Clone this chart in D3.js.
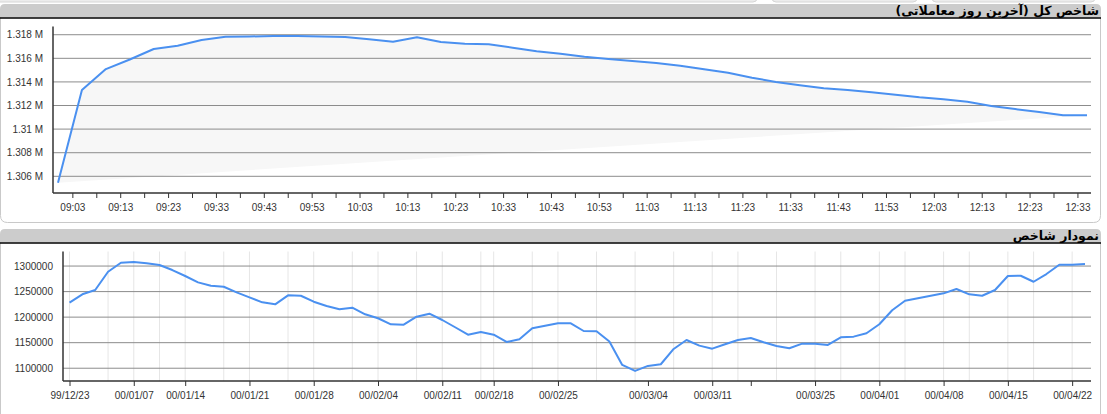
<!DOCTYPE html>
<html>
<head>
<meta charset="utf-8">
<script src="https://cdn.jsdelivr.net/npm/d3@7"></script>
<style>
  html, body { margin: 0; padding: 0; background: #fff; }
  svg { display: block; }
  .tick text { font-family: "Liberation Sans", Arial, sans-serif; }
</style>
</head>
<body>
<svg id="chart" width="1107" height="414"></svg>
<script>
// ---------- DATA ----------
const intradayTitle = "شاخص کل (آخرین روز معاملاتی)";
const dailyTitle = "نمودار شاخص";

const intradayTimes = [
  "09:00","09:05","09:10","09:15","09:20","09:25","09:30","09:35","09:40","09:45",
  "09:50","09:55","10:00","10:05","10:10","10:15","10:20","10:25","10:30","10:35",
  "10:40","10:45","10:50","10:55","11:00","11:05","11:10","11:15","11:20","11:25",
  "11:30","11:35","11:40","11:45","11:50","11:55","12:00","12:05","12:10","12:15",
  "12:20","12:25","12:30","12:35"
];
const intradayValues = [
  1305460,1313310,1315090,1315900,1316790,1317070,1317550,1317830,1317850,1317890,
  1317890,1317850,1317810,1317610,1317410,1317780,1317380,1317240,1317190,1316900,
  1316590,1316390,1316140,1315940,1315770,1315600,1315370,1315070,1314780,1314360,
  1314000,1313710,1313460,1313310,1313120,1312920,1312700,1312530,1312320,1311960,
  1311700,1311450,1311170,1311170
];
const intradayYTicks = [1306000,1308000,1310000,1312000,1314000,1316000,1318000];
const intradayXLabels = [
  "09:03","09:13","09:23","09:33","09:43","09:53","10:03","10:13","10:23","10:33","10:43",
  "10:53","11:03","11:13","11:23","11:33","11:43","11:53","12:03","12:13","12:23","12:33"
];

const dailyValues = [
  1228300,1244700,1253100,1288900,1306500,1307800,1305300,1302000,1292200,1280500,
  1268100,1261500,1259500,1248600,1238800,1229000,1225100,1242700,1241900,1230200,
  1221800,1215300,1218500,1205600,1197800,1186000,1185200,1200900,1206700,1194400,
  1180200,1165700,1171000,1165700,1151400,1156700,1178200,1183300,1188000,1188000,
  1172900,1172300,1152400,1106500,1094700,1104500,1107800,1137700,1155300,1144200,
  1138300,1146900,1155300,1159200,1150800,1143600,1139100,1148100,1148100,1145600,
  1160600,1161800,1168400,1186000,1213400,1232200,1236900,1241900,1246600,1255000,
  1244700,1241900,1253100,1280500,1281000,1269300,1284400,1302500,1302500,1303900
];
const dailyTickIndex  = [0,5,9,14,19,24,29,33,38,45,50,53,58,63,68,73,78];
const dailyTickLabels = ["99/12/23","00/01/07","00/01/14","00/01/21","00/01/28","00/02/04",
  "00/02/11","00/02/18","00/02/25","00/03/04","00/03/11","","00/03/25","00/04/01",
  "00/04/08","00/04/15","00/04/22"];
const dailyGridIndex = [0,3,5,7,9,12,14,17,19,22,24,27,29,32,33,36,38,41,44,47,50,52,55,58,60,63,65,68,70,73,75,78];
const dailyYTicks = [1100000,1150000,1200000,1250000,1300000];

// ---------- DRAW ----------
const svg = d3.select("#chart");
const LINE = "#4a90f0";
const GRID = "#8c8c8c";
const AXIS = "#333";
const TXT = "#333";
const FONT = '"Liberation Sans", Arial, sans-serif';
const TFONT = '"DejaVu Sans", "Noto Sans", sans-serif';

// remnants of tabs above the first panel
[[-10, 757], [772, 917], [932, 1095]].forEach(([a, b]) => {
  svg.append("rect").attr("x",a).attr("y",-6).attr("width",b - a).attr("height",8)
    .attr("rx",4).attr("fill","#ededed").attr("stroke","#d6d6d6");
});

function panel(yHeaderTop, yHeaderBottom, yBottom, title) {
  const g = svg.append("g");
  const r = 7, L = 0.5, R = 1100.5;
  g.append("path")
    .attr("d", `M${L},${yHeaderBottom} L${L},${yBottom - r} Q${L},${yBottom} ${L + r},${yBottom}
                L${R - r},${yBottom} Q${R},${yBottom} ${R},${yBottom - r} L${R},${yHeaderBottom}`)
    .attr("fill","#fff").attr("stroke","#c9c9c9").attr("stroke-width",1);
  const hr = 5;
  g.append("path")
    .attr("d", `M0,${yHeaderBottom} L0,${yHeaderTop + hr} Q0,${yHeaderTop} ${hr},${yHeaderTop}
                L${1101 - hr},${yHeaderTop} Q1101,${yHeaderTop} 1101,${yHeaderTop + hr} L1101,${yHeaderBottom} Z`)
    .attr("fill","#cccccc");
  g.append("line").attr("x1",0).attr("x2",1101)
    .attr("y1",yHeaderBottom + 0.5).attr("y2",yHeaderBottom + 0.5)
    .attr("stroke","#000").attr("stroke-width",1.5);
  g.append("text").attr("x",1099).attr("y",yHeaderBottom - 2.5)
    .attr("text-anchor","start").attr("direction","rtl")
    .style("direction","rtl").style("unicode-bidi","embed")
    .attr("font-family",TFONT).attr("font-weight","bold").attr("font-size",12.5)
    .attr("fill","#000").text(title);
}
panel(4, 17.5, 222.5, intradayTitle);
panel(229, 242.5, 430, dailyTitle);

// ---------- TOP CHART ----------
(function () {
  const parse = d3.timeParse("%H:%M");
  const pts = intradayTimes.map((t, i) => ({ t: parse(t), v: intradayValues[i] }));
  const x = d3.scaleTime().domain([parse("09:00"), parse("12:35")]).range([58, 1087]);
  const y = d3.scaleLinear().domain([1304610, 1318680]).range([192.7, 26.7]);
  const xL = 53, xR = 1091, yB = 193, yT = 26.5;
  const g = svg.append("g");

  const lineGen = d3.line().x(d => x(d.t)).y(d => y(d.v));
  g.append("path").attr("d", lineGen(pts) + "Z").attr("fill","#f7f7f7").attr("stroke","none");

  g.selectAll(".hg").data(intradayYTicks).join("line")
    .attr("x1",xL).attr("x2",xR).attr("y1",d => y(d)).attr("y2",d => y(d))
    .attr("stroke",GRID).attr("stroke-width",1);

  const yAxis = d3.axisLeft(y).tickValues(intradayYTicks).tickSize(0).tickPadding(10)
    .tickFormat(d => (+(d / 1e6).toFixed(3)) + " M");
  const ya = g.append("g").attr("transform",`translate(${xL},0)`).call(yAxis);
  ya.select(".domain").remove();
  ya.selectAll("text").attr("font-size",10).attr("fill",TXT).attr("font-family",FONT);

  const labelTimes = intradayXLabels.map(parse);
  const minorTimes = labelTimes.map(t => d3.timeMinute.offset(t, 5)).filter(t => x(t) <= xR);
  const xAxis = d3.axisBottom(x).tickValues(labelTimes).tickSize(5).tickPadding(6)
    .tickFormat(d3.timeFormat("%H:%M"));
  const xa = g.append("g").attr("transform",`translate(0,${yB})`).call(xAxis);
  xa.select(".domain").remove();
  xa.selectAll("line").attr("stroke",AXIS);
  xa.selectAll("text").attr("font-size",10).attr("fill",TXT).attr("font-family",FONT);
  const xm = g.append("g").attr("transform",`translate(0,${yB})`)
    .call(d3.axisBottom(x).tickValues(minorTimes).tickSize(5).tickFormat(""));
  xm.select(".domain").remove();
  xm.selectAll("line").attr("stroke",AXIS);

  g.append("line").attr("x1",xL).attr("x2",xR).attr("y1",yB).attr("y2",yB).attr("stroke",AXIS).attr("stroke-width",1.5);
  g.append("line").attr("x1",xL).attr("x2",xL).attr("y1",yT).attr("y2",yB).attr("stroke",AXIS).attr("stroke-width",1.5);

  g.append("path").attr("d", lineGen(pts)).attr("fill","none")
    .attr("stroke",LINE).attr("stroke-width",2).attr("stroke-linejoin","round");
})();

// ---------- BOTTOM CHART ----------
(function () {
  const idx = d3.range(dailyValues.length);
  const x = d3.scalePoint().domain(idx).range([69.5, 1085]);
  const y = d3.scaleLinear().domain([1075000, 1327500]).range([381, 252]);
  const xL = 63, xR = 1091, yB = 381, yT = 251.5;
  const g = svg.append("g");

  g.selectAll(".vg").data(dailyGridIndex).join("line")
    .attr("x1",d => x(d)).attr("x2",d => x(d)).attr("y1",yT).attr("y2",yB)
    .attr("stroke","#e6e6e6").attr("stroke-width",1);

  g.selectAll(".hg").data(dailyYTicks).join("line")
    .attr("x1",xL).attr("x2",xR).attr("y1",d => y(d)).attr("y2",d => y(d))
    .attr("stroke",GRID).attr("stroke-width",1);

  const yAxis = d3.axisLeft(y).tickValues(dailyYTicks).tickSize(0).tickPadding(10)
    .tickFormat(d3.format("d"));
  const ya = g.append("g").attr("transform",`translate(${xL},0)`).call(yAxis);
  ya.select(".domain").remove();
  ya.selectAll("text").attr("font-size",10).attr("fill",TXT).attr("font-family",FONT);

  const labelMap = new Map(dailyTickIndex.map((d, i) => [d, dailyTickLabels[i]]));
  const xAxis = d3.axisBottom(x).tickValues(dailyTickIndex).tickSize(5).tickPadding(6)
    .tickFormat(d => labelMap.get(d));
  const xa = g.append("g").attr("transform",`translate(0,${yB})`).call(xAxis);
  xa.select(".domain").remove();
  xa.selectAll("line").attr("stroke",AXIS);
  xa.selectAll("text").attr("font-size",10).attr("fill",TXT).attr("font-family",FONT);

  g.append("line").attr("x1",xL).attr("x2",xR).attr("y1",yB).attr("y2",yB).attr("stroke",AXIS).attr("stroke-width",1.5);
  g.append("line").attr("x1",xL).attr("x2",xL).attr("y1",yT).attr("y2",yB).attr("stroke",AXIS).attr("stroke-width",1.5);

  const lineGen = d3.line().x(d => x(d)).y(d => y(dailyValues[d]));
  g.append("path").attr("d", lineGen(idx)).attr("fill","none")
    .attr("stroke",LINE).attr("stroke-width",2).attr("stroke-linejoin","round");
})();
</script>
</body>
</html>
